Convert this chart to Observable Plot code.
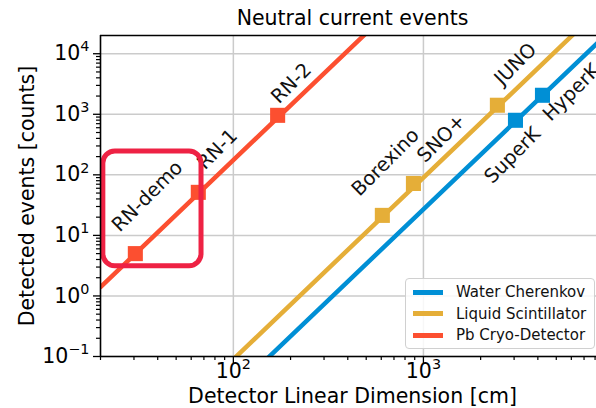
<!DOCTYPE html>
<html>
<head>
<meta charset="utf-8">
<script src="https://cdn.jsdelivr.net/npm/d3@7"></script>
<script src="https://cdn.jsdelivr.net/npm/@observablehq/plot@0.6"></script>
<style>
  html, body { margin: 0; padding: 0; background: #fff; }
  #wrap { position: relative; width: 596px; height: 408px; overflow: hidden; font-family: "DejaVu Sans", sans-serif; }
  #legend { position: absolute; left: 405px; top: 278px; width: 190px; height: 71px; box-sizing: border-box;
            border: 1px solid #d0d0d0; border-radius: 4px; background: rgba(255,255,255,0.85); font-size: 15px; color: #111; }
  .row { position: absolute; left: 0; height: 22px; display: flex; align-items: center; }
  .sw { display: inline-block; width: 30px; height: 5px; margin-left: 7px; margin-right: 13px; }
</style>
</head>
<body>
<div id="wrap"></div>
<script>
// ---- data ----
const detectors   = ["RN-demo", "RN-1", "RN-2", "Borexino", "SNO+", "JUNO", "SuperK", "HyperK"];
const technology  = ["Pb Cryo-Detector", "Pb Cryo-Detector", "Pb Cryo-Detector",
                     "Liquid Scintillator", "Liquid Scintillator", "Liquid Scintillator",
                     "Water Cherenkov", "Water Cherenkov"];
const lengthCm    = [30.5, 65.4, 171, 608, 886, 2450, 3050, 4230];
const events      = [5.0, 51.4, 961, 21.4, 72, 1410, 796, 2060];
// label anchor (centre of rotated text) in data units
const labelLengthCm = [35.3, 82.4, 202, 631, 1244, 3048, 2940, 6010];
const labelEvents   = [44.2, 264, 3250, 161, 401, 6700, 210, 2310];

// scaling lines (end points)
const seriesNames   = ["Water Cherenkov", "Liquid Scintillator", "Pb Cryo-Detector"];
const seriesColors  = ["#008fd5", "#e5ae38", "#fc4f30"];
const lineLengthCm  = [[100, 10000], [100, 10000], [20, 600]];
const lineEvents    = [[0.027, 27000], [0.09, 90000], [1.4, 37800]];

// highlight box around RN-demo
const highlightLengthCm = [20.7, 68];
const highlightEvents   = [3.1, 244];

// ticks
const xMajor = [100, 1000];
const xMinor = [20, 30, 40, 50, 60, 70, 80, 90, 200, 300, 400, 500, 600, 700, 800, 900,
                2000, 3000, 4000, 5000, 6000, 7000, 8000];
const yMajor = [0.1, 1, 10, 100, 1000, 10000];
const yMinorBases = [0.1, 1, 10, 100, 1000];
const yMinorSteps = [2, 3, 4, 5, 6, 7, 8, 9];
const yMinor = yMinorBases.flatMap(b => yMinorSteps.map(k => +(b * k).toPrecision(3)));
const xDomain = [20, 8140];
const yDomain = [0.1, 20000];

// ---- build tables ----
const points = detectors.map((name, i) => ({name, tech: technology[i], L: lengthCm[i], N: events[i],
                                            lx: labelLengthCm[i], ly: labelEvents[i]}));
const lines = [];
seriesNames.forEach((s, i) => lineLengthCm[i].forEach((L, j) => lines.push({series: s, L, N: lineEvents[i][j]})));

const pow10 = d => "10^" + Math.round(Math.log10(d));

const FS = 19.5, AFS = 20.5;
const chart = Plot.plot({
  width: 596, height: 408,
  marginLeft: 100, marginRight: 0, marginTop: 35, marginBottom: 52,
  style: {fontFamily: "DejaVu Sans", fontSize: FS + "px", color: "#000", background: "transparent"},
  x: {type: "log", domain: xDomain},
  y: {type: "log", domain: yDomain},
  color: {domain: seriesNames, range: seriesColors},
  marks: [
    Plot.gridX(xMajor, {stroke: "#cbcbcb", strokeOpacity: 1, strokeWidth: 1.5}),
    Plot.gridY(yMajor, {stroke: "#cbcbcb", strokeOpacity: 1, strokeWidth: 1.5}),
    Plot.line(lines, {x: "L", y: "N", z: "series", stroke: "series", strokeWidth: 4.5, clip: true}),
    Plot.dot(points, {x: "L", y: "N", fill: "tech", symbol: "square", r: 8.5, stroke: null}),
    Plot.text(points, {x: "lx", y: "ly", text: "name", rotate: -45, textAnchor: "middle", lineAnchor: "middle",
                       fontSize: FS, fill: "#111"}),
    Plot.rect([0], {x1: () => highlightLengthCm[0], x2: () => highlightLengthCm[1],
                    y1: () => highlightEvents[0], y2: () => highlightEvents[1],
                    fill: "none", stroke: "#ee2244", strokeWidth: 5, rx: 12}),
    // spines
    Plot.ruleX([xDomain[0]], {stroke: "#000", strokeWidth: 1.6}),
    Plot.ruleY([yDomain[0]], {stroke: "#000", strokeWidth: 1.6}),
    Plot.ruleY([yDomain[1]], {stroke: "#000", strokeWidth: 1.6}),
    // axes
    Plot.axisX({ticks: xMinor, tickSize: 4, tickFormat: () => "", label: null, strokeWidth: 1.2}),
    Plot.axisX({ticks: xMajor, tickSize: 7, tickPadding: 0, tickFormat: pow10, label: null, fontSize: AFS, strokeWidth: 1.3}),
    Plot.axisY({ticks: yMinor, tickSize: 4, tickFormat: () => "", label: null, strokeWidth: 1.2}),
    Plot.axisY({ticks: yMajor, tickSize: 7, tickPadding: 4, tickFormat: pow10, label: null, fontSize: AFS, strokeWidth: 1.3}),
    // titles
    Plot.text(["Neutral current events"], {text: d => d, frameAnchor: "top", textAnchor: "middle", lineAnchor: "middle",
                                           dy: -17, dx: 4, fontSize: AFS}),
    Plot.text(["Detector Linear Dimension [cm]"], {text: d => d, frameAnchor: "bottom", textAnchor: "middle", lineAnchor: "middle",
                                                   dy: 40, dx: 4, fontSize: AFS}),
    Plot.text(["Detected events [counts]"], {text: d => d, frameAnchor: "left", textAnchor: "middle", lineAnchor: "middle",
                                             rotate: -90, dx: -73, fontSize: AFS})
  ]
});

// render exponents as real superscripts
d3.select(chart).selectAll("text").each(function () {
  const m = /^10\^(-?\d+)$/.exec(this.textContent);
  if (!m) return;
  const t = d3.select(this);
  t.text("10");
  t.append("tspan").attr("dy", "-0.62em").attr("font-size", "70%").text(m[1].replace("-", "\u2212"));
});

const wrap = document.getElementById("wrap");
wrap.appendChild(chart);

// legend
const legend = document.createElement("div");
legend.id = "legend";
seriesNames.forEach((s, i) => {
  const row = document.createElement("div");
  row.className = "row";
  row.style.top = (2 + i * 21.5) + "px";
  const sw = document.createElement("span");
  sw.className = "sw";
  sw.style.background = seriesColors[i];
  const t = document.createElement("span");
  t.textContent = s;
  row.appendChild(sw); row.appendChild(t);
  legend.appendChild(row);
});
wrap.appendChild(legend);
</script>
</body>
</html>
